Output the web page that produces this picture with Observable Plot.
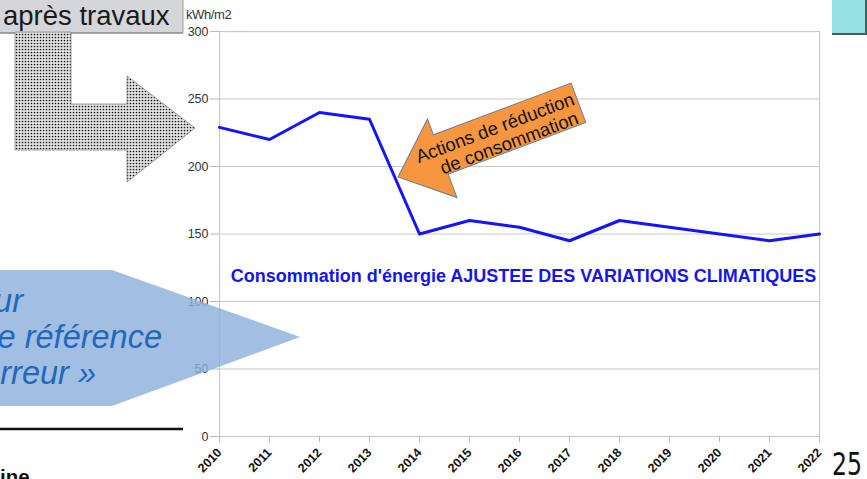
<!DOCTYPE html>
<html>
<head>
<meta charset="utf-8">
<script src="https://cdn.jsdelivr.net/npm/d3@7"></script>
<script src="https://cdn.jsdelivr.net/npm/@observablehq/plot@0.6"></script>
<style>
  html, body { margin: 0; padding: 0; background: #fff; }
  #chart { position: relative; width: 867px; height: 479px; overflow: hidden; }
  #chart svg { display: block; }
</style>
</head>
<body>
<div id="chart"></div>
<script>
// ---- Data ----
const years = [2010, 2011, 2012, 2013, 2014, 2015, 2016, 2017, 2018, 2019, 2020, 2021, 2022];
const consumption = [229, 220, 240, 235, 150, 160, 155, 145, 160, 155, 150, 145, 150];
const yTicks = [0, 50, 100, 150, 200, 250, 300];
const unitLabel = "kWh/m2";
const seriesLabel = "Consommation d'énergie AJUSTEE DES VARIATIONS CLIMATIQUES";
const seriesLabelPos = {year: 2016.08, value: 119};
const titleText = "après travaux";
const arrowLines = ["Actions de réduction", "de consommation"];
const calloutLines = ["ur", "e référence", "rreur »"];
const footerText = "ine";
const pageNumber = "25";

const rows = years.map((year, i) => ({year, value: consumption[i]}));

const font = "'Liberation Sans', Arial, sans-serif";

const chart = Plot.plot({
  width: 867,
  height: 479,
  marginLeft: 219,
  marginRight: 48,
  marginTop: 31,
  marginBottom: 43,
  style: {fontFamily: font, background: "#fff", overflow: "visible"},
  x: {domain: [2010, 2022], label: null},
  y: {domain: [0, 300], label: null},
  marks: [
    Plot.gridY(yTicks, {stroke: "#c9c9c9", strokeOpacity: 1, strokeWidth: 1.2}),
    Plot.frame({stroke: "#c9c9c9", strokeWidth: 1.2}),
    Plot.axisY({ticks: yTicks, tickSize: 9, tickPadding: 2, stroke: "#b8b8b8", fill: "#333", fontSize: 12.5, label: null}),
    Plot.axisX({ticks: years, tickFormat: d => String(d), tickSize: 6, tickPadding: 8, tickRotate: -46,
      stroke: "#b8b8b8", fill: "#111", fontSize: 12.5, fontWeight: "bold", label: null}),
    Plot.line(rows, {x: "year", y: "value", stroke: "#1414ff", strokeWidth: 3}),
    Plot.text([seriesLabel], {x: () => seriesLabelPos.year, y: () => seriesLabelPos.value, text: d => d,
      fill: "#1515ee", fontSize: 18, fontWeight: "bold", fontFamily: font})
  ]
});
document.getElementById("chart").appendChild(chart);

// ---- Slide decorations (non-data annotations) ----
const svg = d3.select(chart);
const defs = svg.append("defs");
const pat = defs.append("pattern").attr("id", "dots").attr("patternUnits", "userSpaceOnUse")
  .attr("width", 3).attr("height", 3);
pat.append("rect").attr("width", 3).attr("height", 3).attr("fill", "#e4e4e4");
pat.append("circle").attr("cx", 1.5).attr("cy", 1.5).attr("r", 0.85).attr("fill", "#1a1a1a");

const deco = svg.append("g").attr("class", "deco").attr("text-anchor", "start");

// unit label
deco.append("text").attr("x", 186).attr("y", 19).text(unitLabel)
  .attr("font-family", font).attr("font-size", 13).attr("fill", "#333").attr("letter-spacing", -0.4);

// title box
deco.append("rect").attr("x", -2).attr("y", -2).attr("width", 185).attr("height", 35).attr("fill", "#d4d6da");
deco.append("line").attr("x1", 0).attr("x2", 183).attr("y1", 33).attr("y2", 33).attr("stroke", "#8a8a8a").attr("stroke-width", 1.5);
deco.append("line").attr("x1", 183).attr("x2", 183).attr("y1", 0).attr("y2", 33).attr("stroke", "#9a9a9a").attr("stroke-width", 1);
deco.append("text").attr("x", 3).attr("y", 25).text(titleText)
  .attr("font-family", font).attr("font-size", 27.5).attr("fill", "#1a1a1a");

// dotted L arrow
deco.append("path")
  .attr("d", "M15,32 L71,32 L71,104 L127,104 L127,76 L195,128 L127,182 L127,150 L15,150 Z")
  .attr("fill", "url(#dots)").attr("stroke", "#8a8a8a").attr("stroke-width", 0.8);

// orange arrow
const oa = deco.append("g").attr("transform", "translate(398,177) rotate(-20.6)");
oa.append("path")
  .attr("d", "M0,0 L48,-44 L48,-27 L195,-27 L195,15 L48,15 L48,40 Z")
  .attr("fill", "#f7963e").attr("stroke", "#6d7f96").attr("stroke-width", 1);
oa.append("text").attr("x", 108).attr("y", -12).attr("dy", "0.35em").attr("text-anchor", "middle")
  .text(arrowLines[0]).attr("font-family", font).attr("font-size", 18.5).attr("fill", "#111");
oa.append("text").attr("x", 116).attr("y", 7).attr("dy", "0.35em").attr("text-anchor", "middle")
  .text(arrowLines[1]).attr("font-family", font).attr("font-size", 18.5).attr("fill", "#111");

// blue pentagon callout
deco.append("path").attr("d", "M-2,270 L112,270 L300,337 L112,406 L-2,406 Z")
  .attr("fill", "#8db0da").attr("fill-opacity", 0.82);
const cy = [312, 348, 384], cx = [23, 162, 96];
calloutLines.forEach((t, i) => {
  deco.append("text").attr("x", cx[i]).attr("y", cy[i]).attr("text-anchor", "end").text(t)
    .attr("font-family", font).attr("font-style", "italic").attr("font-size", 32.5).attr("fill", "#1f68bd");
});

// black rule & footer
deco.append("line").attr("x1", 0).attr("x2", 183).attr("y1", 429).attr("y2", 429).attr("stroke", "#111").attr("stroke-width", 2.5);
deco.append("text").attr("x", 0).attr("y", 484).text(footerText)
  .attr("font-family", font).attr("font-weight", "bold").attr("font-size", 20.5).attr("fill", "#111");

// teal box
deco.append("rect").attr("x", 832).attr("y", -2).attr("width", 36).attr("height", 37).attr("fill", "#3f5f60");
deco.append("rect").attr("x", 832).attr("y", -2).attr("width", 33).attr("height", 35).attr("fill", "#95e1e1");

// page number
deco.append("text").attr("x", 832).attr("y", 475).text(pageNumber)
  .attr("font-family", "'Liberation Sans Narrow', 'DejaVu Sans Condensed', sans-serif")
  .attr("font-stretch", "condensed").attr("font-size", 32).attr("fill", "#111")
  .attr("textLength", 30).attr("lengthAdjust", "spacingAndGlyphs");
</script>
</body>
</html>
